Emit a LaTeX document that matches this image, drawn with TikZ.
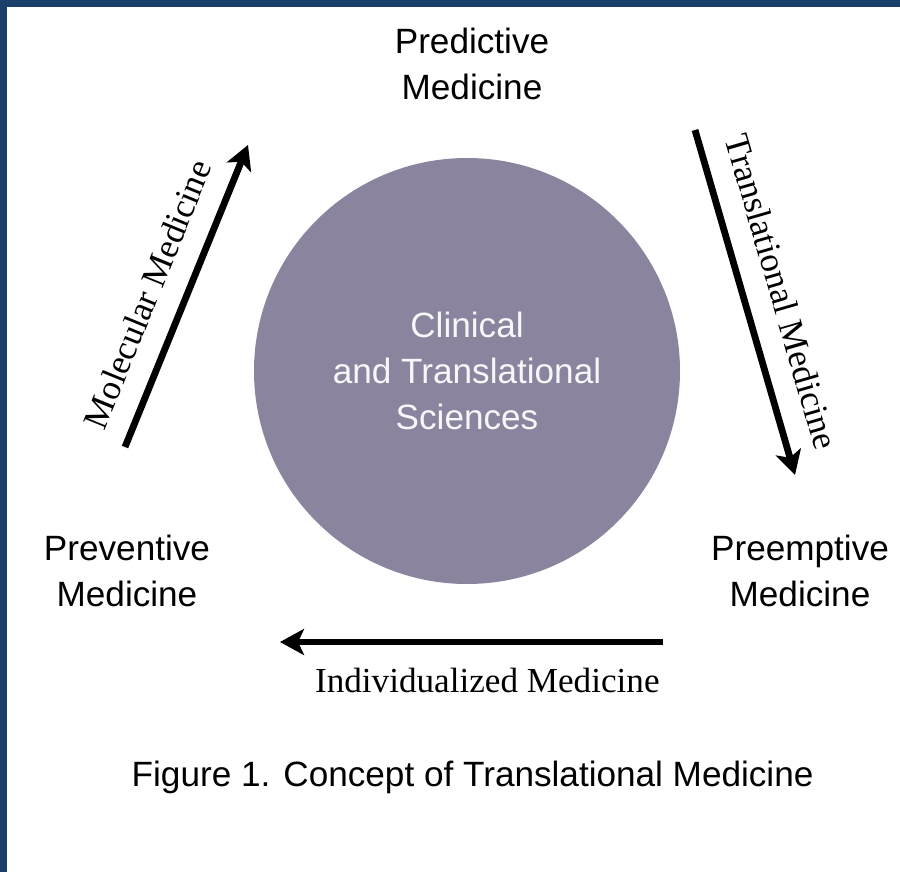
\documentclass[tikz,border=0pt]{standalone}
\usepackage{fontspec}
\setmainfont{Liberation Sans}
\newfontfamily\timesfont{Liberation Serif}
\usetikzlibrary{arrows.meta}

\definecolor{frameblue}{HTML}{1B3F6B}
\definecolor{hubgray}{HTML}{8A849E}

\tikzset{
  stage/.style={align=center, font=\fontsize{25}{33}\selectfont},
  flow/.style={line width=0.17cm, -{Stealth[length=0.6cm,width=0.65cm,inset=0.15cm]}},
  flowlabel/.style={font=\timesfont\fontsize{25}{30}\selectfont, inner sep=0pt},
}

\begin{document}
\begin{tikzpicture}
\useasboundingbox (-11.675,-12.525) rectangle (10.825,9.275);
% page and frame
\fill[white] (-11.675,-12.525) rectangle (10.825,9.275);
\fill[frameblue] (-11.675,9.1) rectangle (10.825,9.275);
\fill[frameblue] (-11.675,-12.525) rectangle (-11.5,9.275);

% centre
\node[circle, fill=hubgray, minimum size=10.65cm, stage, text=white!93!hubgray] (hub) at (0,0) {Clinical\\and Translational\\Sciences};

% the four stages
\node[stage] (pred) at (0.125,7.675) {Predictive\\Medicine};
\node[stage] (prev) at (-8.5,-5.0) {Preventive\\Medicine};
\node[stage] (preem) at (8.325,-5.0) {Preemptive\\Medicine};

% arrow ends
\coordinate (m0) at (-8.55,-1.9);
\coordinate (m1) at (-5.475,5.65);
\coordinate (t0) at (5.7,6.025);
\coordinate (t1) at (8.2,-2.6);
\coordinate (i0) at (4.9,-6.775);
\coordinate (i1) at (-4.675,-6.775);

\draw[flow] (m0) -- (m1) node[flowlabel, pos=0.46, sloped, above=15pt] {Molecular Medicine};
\draw[flow] (t0) -- (t1) node[flowlabel, midway, sloped, above=16pt] {Translational Medicine};
\draw[flow] (i0) -- (i1) node[flowlabel, at start, anchor=north east, yshift=-16pt] {Individualized Medicine};

\node[font=\fontsize{25}{30}\selectfont] (caption) at (0.14,-10.15) {Figure 1. Concept of Translational Medicine};
\end{tikzpicture}
\end{document}
